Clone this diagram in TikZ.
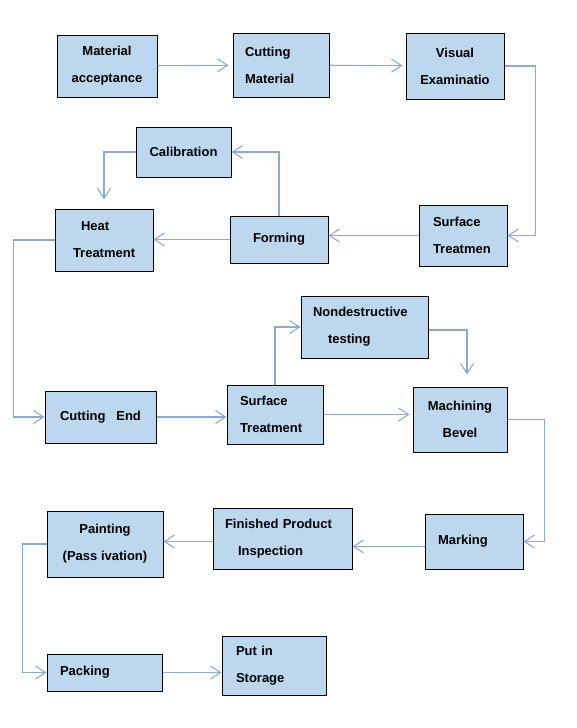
\documentclass[tikz,border=0pt]{standalone}
\usepackage{fontspec}
\setmainfont{Liberation Sans}
\usepackage{xcolor}
\definecolor{boxblue}{HTML}{BDD7EE}
\definecolor{linkblue}{HTML}{8DAAD0}
\usetikzlibrary{arrows.meta}

\begin{document}
\begin{tikzpicture}[x=1pt,y=-1pt,
  box/.style={rectangle,draw=black,line width=1pt,fill=boxblue,
              font=\fontsize{13}{27}\selectfont\bfseries,text=black,align=center},
  lbox/.style={box,align=left},
  arr/.style={-{Straight Barb[length=10pt,width=13pt]},draw=linkblue,line width=1.1pt}]
  \useasboundingbox (0,0) rectangle (577,728);
  % top row
  \node[box,minimum width=100,minimum height=62] (ma) at (107,66){Material\\acceptance};
  \node[lbox,minimum width=96,minimum height=64,inner xsep=12,text width=72pt] (cm) at (281,65){Cutting\\Material};
  \node[box,minimum width=98,minimum height=66] (ve) at (455,66){Visual\\Examinatio};
  % second row
  \node[lbox,minimum width=88,minimum height=61,inner xsep=14,text width=60pt] (st1) at (463,235.5){Surface\\Treatmen};
  \node[box,minimum width=98,minimum height=47] (fo) at (279,239.5){Forming};
  \node[box,minimum width=95,minimum height=50] (ca) at (183.5,152){Calibration};
  \node[lbox,minimum width=98,minimum height=62,inner xsep=18,text width=62pt] (ht) at (104,240){\hspace*{8pt}Heat\\Treatment};
  % third row
  \node[box,minimum width=111,minimum height=52] (ce) at (100.5,417){Cutting\ \ \ End};
  \node[lbox,minimum width=96,minimum height=59,inner xsep=13,text width=70pt] (st2) at (275,414.5){Surface\\Treatment};
  \node[lbox,minimum width=127,minimum height=62,inner xsep=12,text width=103pt] (nd) at (364.5,327){Nondestructive\\\hspace*{15pt}testing};
  \node[box,minimum width=94,minimum height=65] (mb) at (460,419.5){Machining\\Bevel};
  % fourth row
  \node[lbox,minimum width=98,minimum height=55,inner xsep=13,text width=72pt] (mk) at (474,541.5){Marking};
  \node[lbox,minimum width=139,minimum height=61,inner xsep=12,text width=115pt] (fp) at (282.5,538.5){Finished Product\\\hspace*{13pt}Inspection};
  \node[box,minimum width=116,minimum height=66] (pa) at (105,544){Painting\\(Pass ivation)};
  % last row
  \node[lbox,minimum width=115,minimum height=37,inner xsep=13,text width=89pt] (pk) at (104.5,672.5){Packing};
  \node[lbox,minimum width=104,minimum height=59,inner xsep=14,text width=76pt] (ps) at (274,665.5){Put in\\Storage};
  % connectors
  \draw[arr,shorten >=4pt](ma)--(cm);
  \draw[arr,shorten >=3pt](cm)--(ve);
  \draw[arr](ve.east)--++(31,0)|-(st1.east);
  \draw[arr](st1.west)--(st1.west-|fo.east);
  \draw[arr](fo.north)|-(ca.east);
  \draw[arr,shorten >=9pt](ca.west)-|(ht.north);
  \draw[arr](fo.west)--(fo.west-|ht.east);
  \draw[arr](ht.west)--++(-41,0)|-(ce.west);
  \draw[arr](ce.east)--(ce.east-|st2.west);
  \draw[arr](st2.north)|-(nd.west);
  \draw[arr,shorten >=3pt](st2.east)--(st2.east-|mb.west);
  \draw[arr,shorten >=12pt]([yshift=-3pt]nd.east)-|([xshift=7pt]mb.north);
  \draw[arr](mb.east)--++(37,0)|-(mk.east);
  \draw[arr]([yshift=-5pt]mk.west)--([yshift=-5pt]mk.west-|fp.east);
  \draw[arr]([yshift=-3pt]fp.west)--([yshift=-3pt]fp.west-|pa.east);
  \draw[arr](pa.west)--++(-24,0)|-(pk.west);
  \draw[arr](pk.east)--(pk.east-|ps.west);
\end{tikzpicture}
\end{document}
